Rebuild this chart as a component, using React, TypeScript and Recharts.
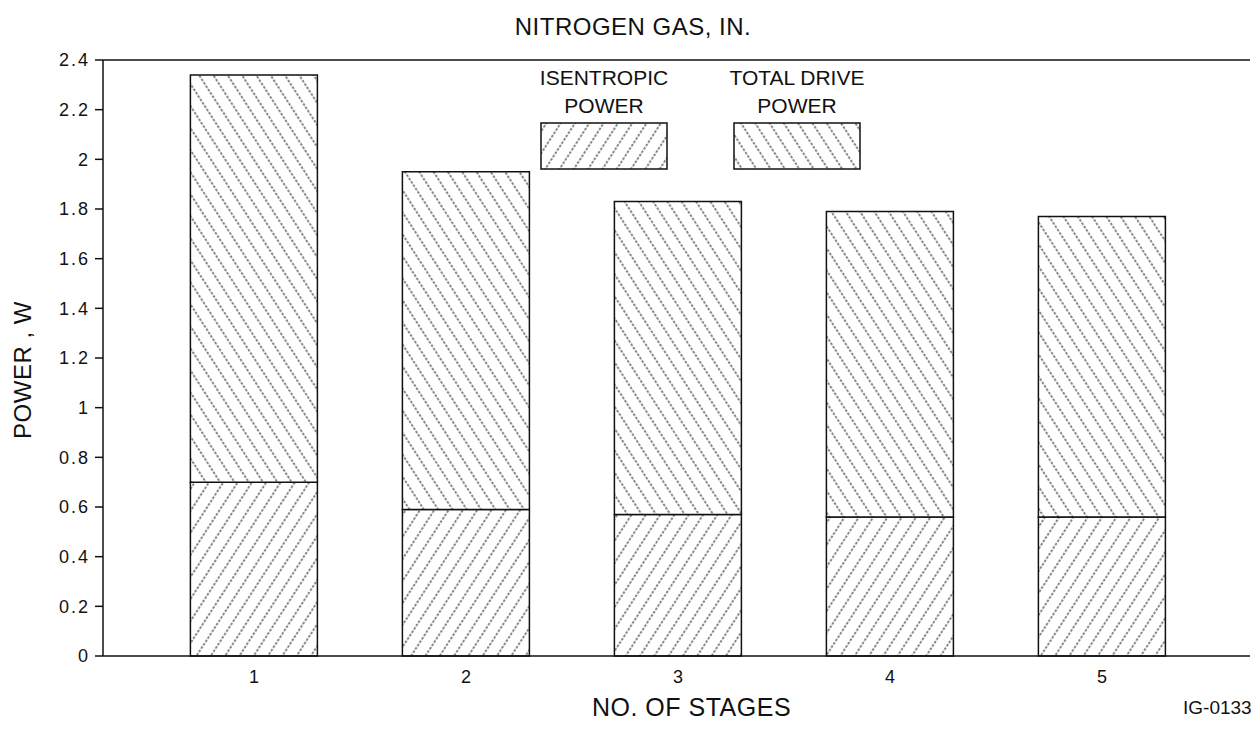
import React from "react";
import {
  Bar,
  BarChart,
  Label,
  ReferenceLine,
  XAxis,
  YAxis,
} from "recharts";

// values (power, W)
const stages = ["1", "2", "3", "4", "5"];
const isentropicPower = [0.7, 0.59, 0.57, 0.56, 0.56];
const totalDrivePower = [2.34, 1.95, 1.83, 1.79, 1.77];
const yTicks = [0, 0.2, 0.4, 0.6, 0.8, 1, 1.2, 1.4, 1.6, 1.8, 2, 2.2, 2.4];
const legendItems = [
  { lines: ["ISENTROPIC", "POWER"], fill: "url(#hatchIsen)" },
  { lines: ["TOTAL DRIVE", "POWER"], fill: "url(#hatchTotal)" },
];

const data = stages.map((stage, i) => ({
  stage,
  isentropic: isentropicPower[i],
  remainder: +(totalDrivePower[i] - isentropicPower[i]).toFixed(2),
}));

const FONT = '"Liberation Sans", Arial, Helvetica, sans-serif';
const INK = "#111";

// legend sits inside the plot, so it is placed by hand over the chart
function HatchLegend() {
  return (
    <div
      style={{
        position: "absolute",
        left: 540,
        top: 64,
        display: "flex",
        gap: 65,
        fontFamily: FONT,
        color: INK,
      }}
    >
      {legendItems.map((item) => (
        <div key={item.lines[0]} style={{ width: 128, textAlign: "center" }}>
          {item.lines.map((l) => (
            <div
              key={l}
              style={{
                fontSize: 21,
                lineHeight: "28px",
                whiteSpace: "nowrap",
                marginLeft: -30,
                marginRight: -30,
              }}
            >
              {l}
            </div>
          ))}
          <svg width={128} height={48} style={{ display: "block", marginTop: 2 }}>
            <rect x={1} y={1} width={126} height={46} fill={item.fill} stroke={INK} strokeWidth={1.5} />
          </svg>
        </div>
      ))}
    </div>
  );
}

export default function App() {
  return (
    <div
      style={{
        position: "absolute",
        left: 0,
        top: 0,
        width: 1257,
        height: 736,
        background: "#fff",
        fontFamily: FONT,
      }}
    >
      <div
        style={{
          position: "absolute",
          left: 433,
          width: 400,
          top: 13,
          textAlign: "center",
          fontSize: 24,
          letterSpacing: 0.5,
          color: INK,
        }}
      >
        NITROGEN GAS, IN.
      </div>
      <BarChart
        width={1257}
        height={736}
        data={data}
        margin={{ top: 60, right: 7, bottom: 20, left: 0 }}
        barCategoryGap="20%"
      >
        <defs>
          <pattern id="hatchIsen" patternUnits="userSpaceOnUse" width={12} height={12} patternTransform="rotate(33)">
            <rect width={12} height={12} fill="#fff" />
            <line x1={6} y1={0} x2={6} y2={12} stroke="#222" strokeWidth={1.1} strokeDasharray="2.5 1.5" />
          </pattern>
          <pattern id="hatchTotal" patternUnits="userSpaceOnUse" width={12} height={12} patternTransform="rotate(-33)">
            <rect width={12} height={12} fill="#fff" />
            <line x1={6} y1={0} x2={6} y2={12} stroke="#222" strokeWidth={1.1} strokeDasharray="2.5 1.5" />
          </pattern>
        </defs>
        <XAxis
          dataKey="stage"
          padding={{ left: 45, right: 42 }}
          tickLine={false}
          axisLine={{ stroke: INK, strokeWidth: 1.5 }}
          tick={{ fill: INK, fontSize: 18, fontFamily: FONT }}
          tickMargin={8}
          height={60}
        >
          <Label
            value="NO. OF STAGES"
            position="insideBottom"
            offset={0}
            dx={15}
            style={{ fill: INK, fontSize: 25, fontFamily: FONT, letterSpacing: 0.5 }}
          />
        </XAxis>
        <YAxis
          domain={[0, 2.4]}
          ticks={yTicks}
          interval={0}
          width={103}
          tickSize={8}
          tickMargin={5}
          tickLine={{ stroke: INK, strokeWidth: 1.5 }}
          axisLine={{ stroke: INK, strokeWidth: 1.5 }}
          tick={{ fill: INK, fontSize: 18, fontFamily: FONT, letterSpacing: 2 }}
        >
          <Label
            value="POWER , W"
            angle={-90}
            position="insideLeft"
            offset={22}
            dy={12}
            style={{ fill: INK, fontSize: 24, fontFamily: FONT, letterSpacing: 0.5, textAnchor: "middle" }}
          />
        </YAxis>
        <YAxis
          yAxisId="frame"
          orientation="right"
          width={0}
          domain={[0, 2.4]}
          tick={false}
          tickLine={false}
          axisLine={{ stroke: INK, strokeWidth: 1.5 }}
        />
        <ReferenceLine y={2.4} stroke={INK} strokeWidth={1.5} />
        <Bar
          dataKey="isentropic"
          stackId="p"
          fill="url(#hatchIsen)"
          stroke={INK}
          strokeWidth={1.5}
          isAnimationActive={false}
        />
        <Bar
          dataKey="remainder"
          stackId="p"
          fill="url(#hatchTotal)"
          stroke={INK}
          strokeWidth={1.5}
          isAnimationActive={false}
        />
      </BarChart>
      <HatchLegend />
      <div style={{ position: "absolute", left: 1183, top: 697, fontSize: 19, color: INK }}>
        IG-0133
      </div>
    </div>
  );
}
